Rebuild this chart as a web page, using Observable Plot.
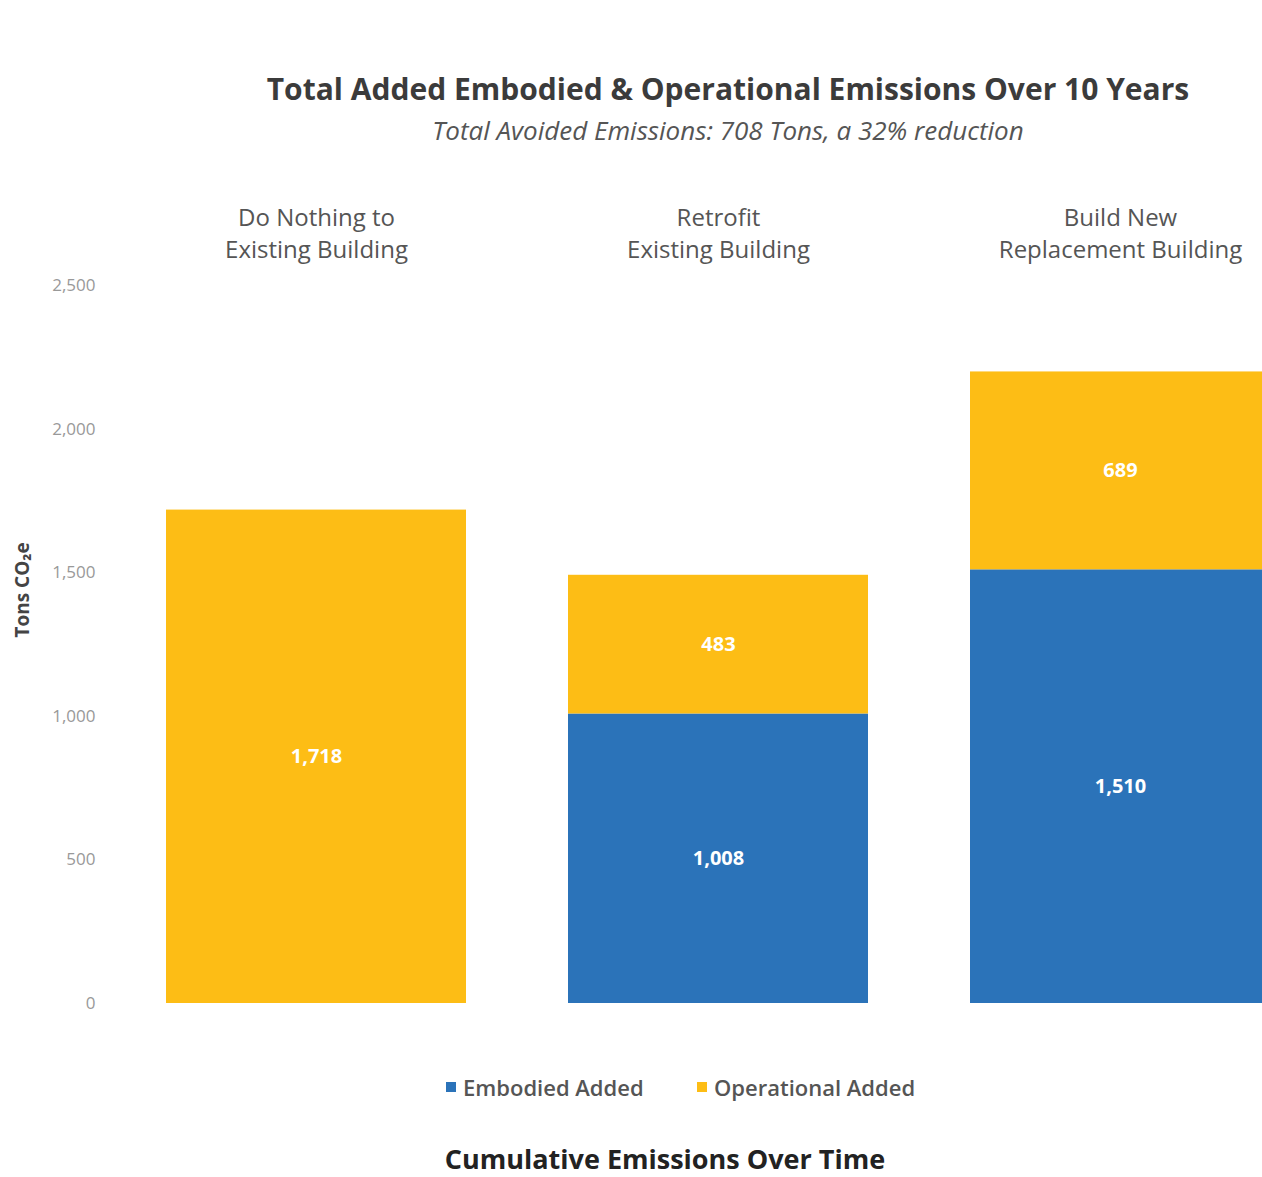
<!DOCTYPE html>
<html><head><meta charset="utf-8">
<script src="https://cdn.jsdelivr.net/npm/d3@7"></script>
<script src="https://cdn.jsdelivr.net/npm/@observablehq/plot@0.6"></script>
<style>
body{margin:0;background:#fff;font-family:"Open Sans",sans-serif;width:1262px;height:1177px;overflow:hidden;position:relative}
.abs{position:absolute;white-space:nowrap}
#title{left:228px;width:1000px;top:69px;text-align:center;font-size:30px;font-weight:700;color:#3b3b3b;line-height:40px}
#subtitle{left:228px;width:1000px;top:113px;text-align:center;font-size:26px;font-style:italic;color:#555;line-height:34px}
#chart{left:0;top:160px;width:1262px;height:880px;overflow:hidden}
.sw{position:absolute;width:10px;height:10px}
.lt{position:absolute;font-size:22px;font-weight:600;color:#555;line-height:30px}
#caption{left:165px;width:1000px;top:1141px;text-align:center;font-size:27px;font-weight:700;color:#222;line-height:36px}
</style></head>
<body>
<div id="title" class="abs">Total Added Embodied &amp; Operational Emissions Over 10 Years</div>
<div id="subtitle" class="abs">Total Avoided Emissions: 708 Tons, a 32% reduction</div>
<div id="chart" class="abs"></div>
<div id="legend"></div>
<div id="caption" class="abs">Cumulative Emissions Over Time</div>
<script>
const scenarios = ["Do Nothing", "Retrofit", "Build New"];
const scenarioLabels = ["Do Nothing to\nExisting Building", "Retrofit\nExisting Building", "Build New\nReplacement Building"];
const series = ["Embodied Added", "Operational Added"];
const seriesColors = ["#2B73B9", "#FDBD15"];
const embodied = [0, 1008, 1510];
const operational = [1718, 483, 689];
const yTicks = [0, 500, 1000, 1500, 2000, 2500];

const rows = [];
scenarios.forEach((s, i) => {
  if (embodied[i] > 0) rows.push({scenario: s, series: series[0], value: embodied[i]});
  if (operational[i] > 0) rows.push({scenario: s, series: series[1], value: operational[i]});
});
const labelOf = Object.fromEntries(scenarios.map((s, i) => [s, scenarioLabels[i]]));

const plot = Plot.plot({
  width: 1262,
  height: 880,
  marginTop: 125,
  marginBottom: 37,
  marginLeft: 115,
  marginRight: 0,
  style: {fontFamily: "Open Sans", background: "transparent", overflow: "hidden"},
  x: {domain: scenarios, range: [115, 1321], paddingInner: 0.254, paddingOuter: 0.127, axis: null},
  y: {domain: [0, 2500], axis: null},
  color: {domain: series, range: seriesColors},
  marks: [
    Plot.axisY({ticks: yTicks, tickSize: 0, tickPadding: 20, tickFormat: d3.format(","), fontSize: 17, fill: "#999", label: null}),
    Plot.text(["Tons CO₂e"], {frameAnchor: "left", y: [1440], dx: -93, rotate: -90, textAnchor: "middle", fontSize: 19, fontWeight: 700, fill: "#444"}),
    Plot.barY(rows, Plot.stackY({x: "scenario", y: "value", fill: "series"})),
    Plot.text(rows, Plot.stackY({x: "scenario", y: "value", text: d => d3.format(",")(d.value), fill: "white", fontSize: 20, fontWeight: 700})),
    Plot.text(scenarios, {x: d => d, text: d => labelOf[d], frameAnchor: "top", lineAnchor: "bottom", dy: -28, fontSize: 24, lineHeight: 1.33, fill: "#555"})
  ]
});
document.getElementById("chart").appendChild(plot);

const legend = document.getElementById("legend");
const legendPos = [[446, 463], [697, 714]];
series.forEach((s, i) => {
  const sw = document.createElement("div");
  sw.className = "sw";
  sw.style.left = legendPos[i][0] + "px";
  sw.style.top = "1082px";
  sw.style.background = seriesColors[i];
  legend.appendChild(sw);
  const t = document.createElement("div");
  t.className = "lt";
  t.style.left = legendPos[i][1] + "px";
  t.style.top = "1072px";
  t.textContent = s;
  legend.appendChild(t);
});
</script>
</body></html>
